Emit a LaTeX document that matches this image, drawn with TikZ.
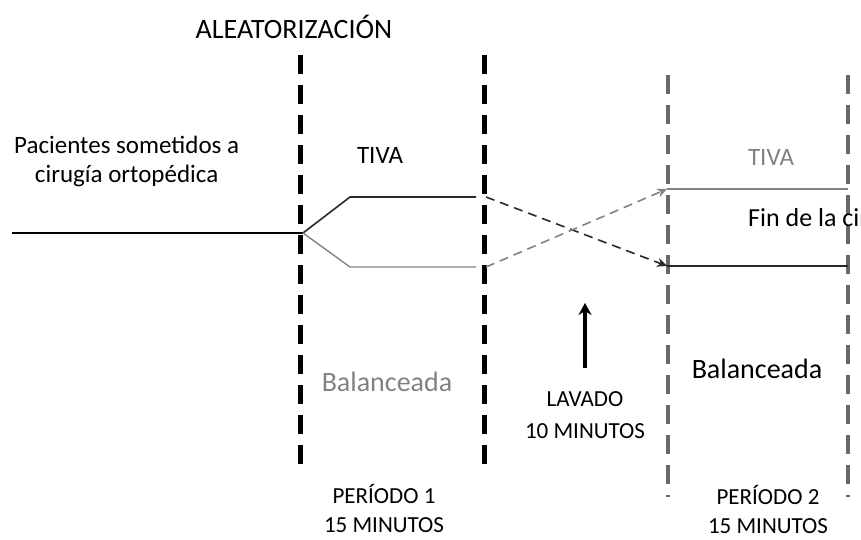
\documentclass[tikz,border=0pt]{standalone}
\usepackage{fontspec}
\setmainfont{Carlito}
\usetikzlibrary{arrows.meta}
\definecolor{lgray}{RGB}{130,130,130}
\definecolor{dgray}{RGB}{40,40,40}
\tikzset{
  lbl/.style={font=\fontsize{23}{29}\selectfont, text=black, inner sep=0pt, align=center},
  biglbl/.style={lbl, font=\fontsize{28}{32}\selectfont},
  midlbl/.style={lbl, font=\fontsize{25}{29}\selectfont},
  vdash/.style={line width=5pt, dash pattern=on 19pt off 11pt, black},
  gvdash/.style={line width=4pt, dash pattern=on 19pt off 11pt, lgray!80!black},
  arm/.style={line width=1.6pt, dgray},
  garm/.style={line width=1.4pt, lgray},
  xarrow/.style={line width=1.6pt, dash pattern=on 9pt off 6pt, -{Stealth[length=10pt,width=9pt]}},
}
\begin{document}
\begin{tikzpicture}[x=1pt,y=-1pt]
\useasboundingbox (0,0) rectangle (861,540);
\clip (0,0) rectangle (861,540);
% vertical dashed lines
\coordinate (v1t) at (300,55); \coordinate (v1b) at (300,472);
\coordinate (v2t) at (484,55); \coordinate (v2b) at (484,472);
\coordinate (v3t) at (668,75); \coordinate (v3b) at (668,497);
\coordinate (v4t) at (848,75); \coordinate (v4b) at (848,497);
\draw[vdash] (v1t) -- (v1b);
\draw[vdash] (v2t) -- (v2b);
\draw[gvdash] (v3t) -- (v3b);
\draw[gvdash] (v4t) -- (v4b);
% main line and split
\coordinate (start) at (12,233);
\coordinate (split) at (303,233);
\coordinate (ut) at (350,197); \coordinate (ue) at (476,197);
\coordinate (lt) at (350,267); \coordinate (le) at (476,267);
\draw[arm, line width=1.5pt, black] (start) -- (split);
\draw[arm] (split) -- (ut) -- (ue);
\draw[garm] (split) -- (lt) -- (le);
% crossover
\coordinate (cs1) at (486,197); \coordinate (ce1) at (667,266);
\coordinate (cs2) at (486,267); \coordinate (ce2) at (667,189);
\draw[xarrow, dgray] (cs1) -- (ce1);
\draw[xarrow, lgray] (cs2) -- (ce2);
% period 2 lines
\coordinate (p2u) at (848,189); \coordinate (p2l) at (848,266);
\draw[garm] (ce2) -- (p2u);
\draw[arm] (ce1) -- (p2l);
% washout arrow
\coordinate (wb) at (585,368); \coordinate (wt) at (585,303);
\draw[line width=3.2pt, -{Stealth[length=12pt,width=13pt]}] (wb) -- (wt);
% labels
\node[biglbl] (alea) at (294,27) {ALEATORIZACIÓN};
\node[midlbl, anchor=west, align=center] (pac) at (14,161) {Pacientes sometidos a\\cirugía ortopédica};
\node[midlbl] (tiva1) at (380,155) {TIVA};
\node[midlbl, text=lgray] (tiva2) at (771,157) {TIVA};
\node[lbl, font=\fontsize{26}{30}\selectfont, anchor=west] (fin) at (748,220) {Fin de la cirugía};
\node[biglbl, text=lgray] (bal1) at (387,382) {Balanceada};
\node[biglbl] (bal2) at (757,369) {Balanceada};
\node[lbl, font=\fontsize{23}{32}\selectfont] (lav) at (585,415) {LAVADO\\10 MINUTOS};
\node[lbl] (per1) at (384,508) {PERÍODO 1\\15 MINUTOS};
\node[lbl] (per2) at (768,509) {PERÍODO 2\\15 MINUTOS};
\end{tikzpicture}
\end{document}
